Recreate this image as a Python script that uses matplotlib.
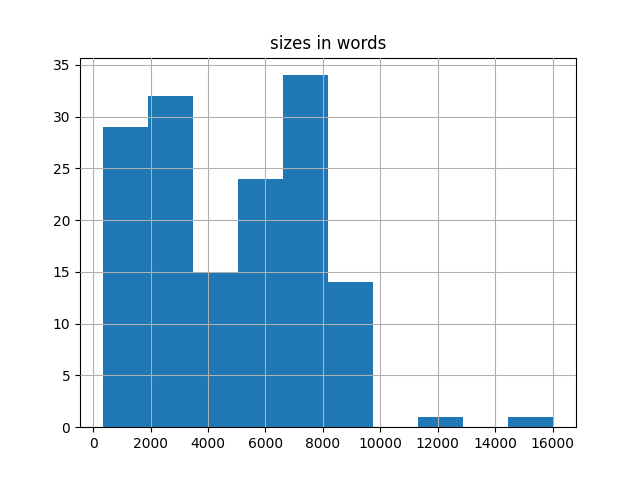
import matplotlib
matplotlib.use("Agg")
import matplotlib.pyplot as plt
import numpy as np

# histogram of document sizes, 10 equal bins
size_min = 330
size_max = 16030
counts = [29, 32, 15, 24, 34, 14, 0, 1, 0, 1]

edges = np.linspace(size_min, size_max, len(counts) + 1)

fig, ax = plt.subplots(figsize=(6.4, 4.8), dpi=100)
ax.hist(edges[:-1], bins=edges, weights=counts, color="#1f77b4")
ax.grid(True)
ax.set_axisbelow(False)
ax.set_title("sizes in words")
fig.savefig("out.png")
